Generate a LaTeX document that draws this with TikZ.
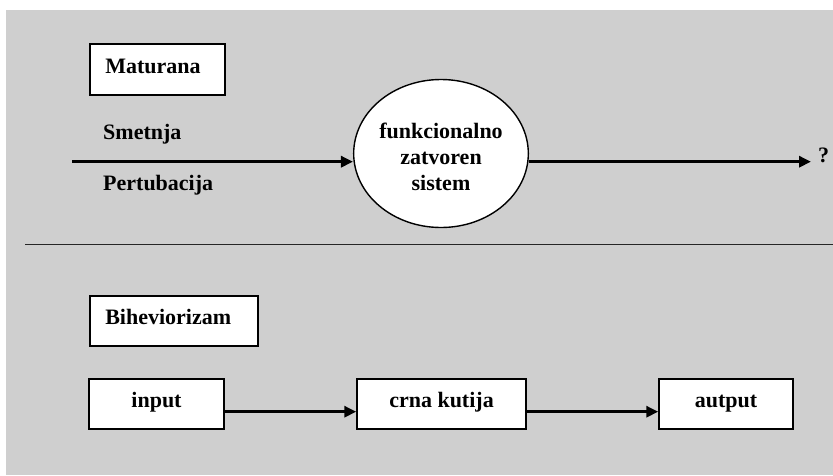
\documentclass[tikz,border=0pt]{standalone}
\usepackage{fontspec}
\setmainfont{Liberation Serif}
\usetikzlibrary{arrows.meta,shapes.geometric}
\definecolor{bggray}{RGB}{207,207,207}
\begin{document}
\begin{tikzpicture}[x=1pt,y=-1pt,
  every node/.style={font=\fontsize{22}{26}\selectfont\bfseries},
  box/.style={draw, line width=1.5pt, fill=white, inner sep=0pt, text height=14pt, text depth=7pt},
  labelbox/.style={box, align=left, inner xsep=15.5pt},
  plain/.style={inner sep=0pt},
  arr/.style={line width=3pt, -{Triangle[length=12pt,width=11pt]}}
]
\useasboundingbox (0,0) rectangle (833,475);
\fill[bggray] (6,10) rectangle (833,475);

% Maturana part
\node[labelbox, text width=104pt, minimum height=51pt, anchor=north west] (mat) at (89,43.3) {Maturana};
\node[plain, anchor=base west] (smet) at (103,139) {Smetnja};
\node[plain, anchor=base west] (pert) at (103,190.7) {Pertubacija};
\node[draw, line width=1.4pt, fill=white, ellipse, minimum width=168pt, minimum height=148pt, inner sep=0pt, align=center] (ell) at (441,153.5) {\rule{0pt}{23pt}funkcionalno\\zatvoren\\sistem};
\node[plain, anchor=base west] (q) at (818,162.7) {?};
\coordinate (in) at (72,161.7);
\coordinate (out) at (811,161.7);
\draw[arr] (in) -- (in -| ell.west);
\draw[arr] (ell.east |- in) -- (out);

% separator
\coordinate (sepL) at (25,244.3);
\coordinate (sepR) at (833,244.3);
\draw[line width=1.4pt, black!85] (sepL) -- (sepR);

% Biheviorizam part
\node[labelbox, text width=137pt, minimum height=50pt, anchor=north west] (bih) at (89,295) {Biheviorizam};
\node[box, minimum width=135pt, minimum height=50pt] (inp) at (156.5,404) {input};
\node[box, minimum width=169pt, minimum height=50pt] (crna) at (441.5,404) {crna kutija};
\node[box, minimum width=134pt, minimum height=50pt] (aut) at (726,404) {autput};
\draw[arr] ([yshift=-7.7pt]inp.east) -- ([yshift=-7.7pt]crna.west);
\draw[arr] ([yshift=-7.7pt]crna.east) -- ([yshift=-7.7pt]aut.west);
\end{tikzpicture}
\end{document}
